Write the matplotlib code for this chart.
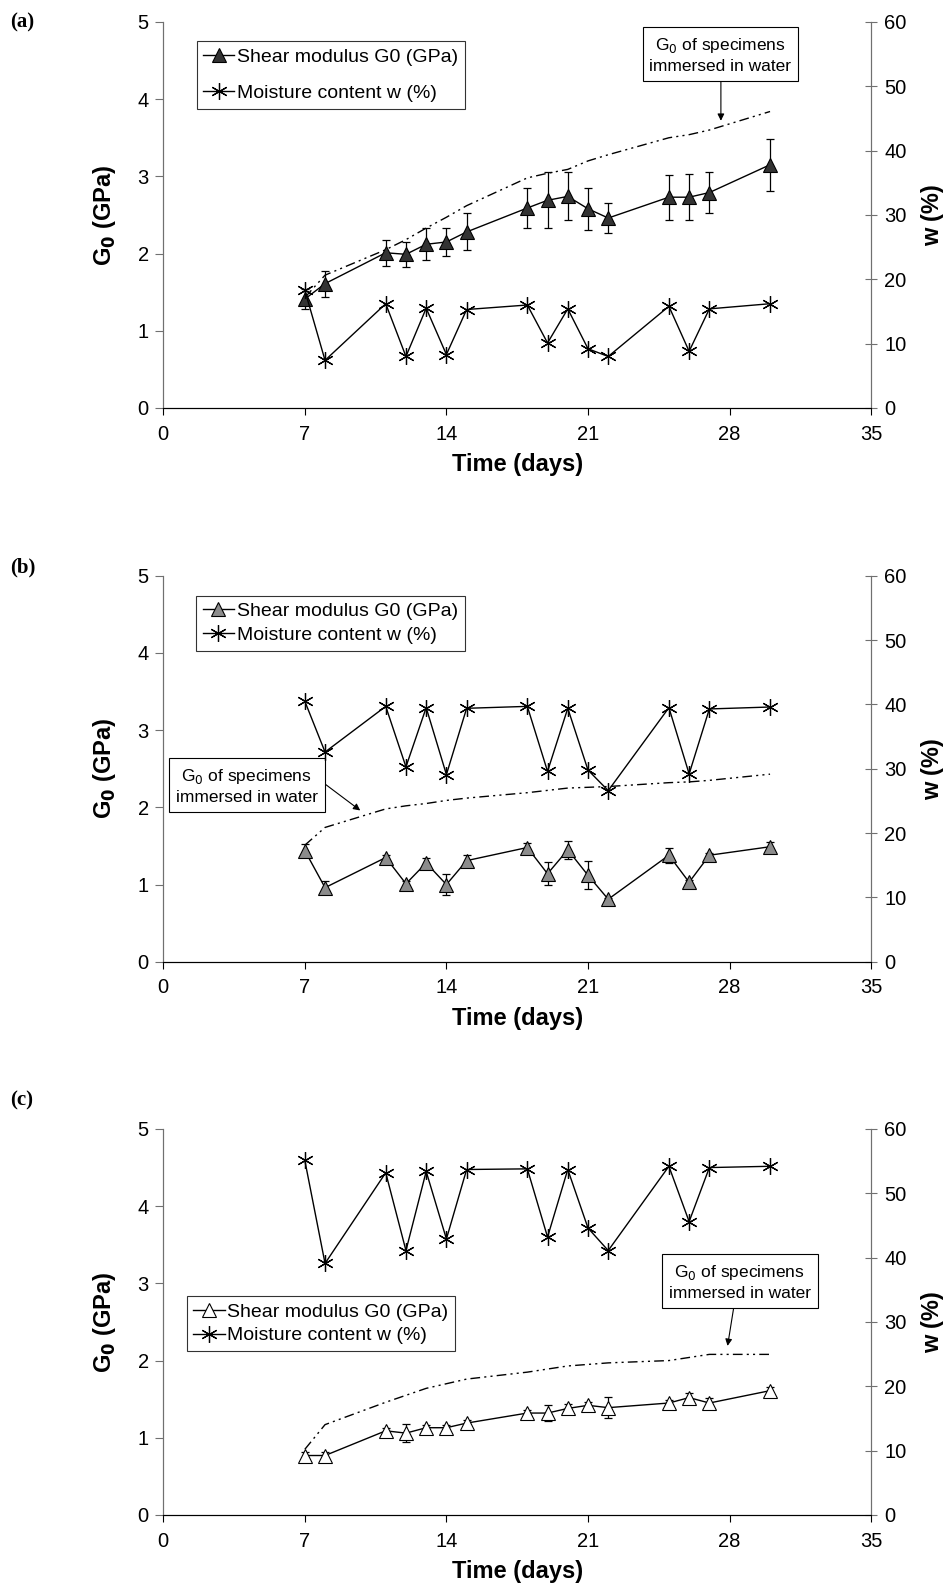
import matplotlib.pyplot as plt

plt.rcParams['font.family'] = ['Liberation Sans', 'DejaVu Sans']

days = [7, 8, 11, 12, 13, 14, 15, 18, 19, 20, 21, 22, 25, 26, 27, 30]

# panel (a)
g_a = [1.41, 1.61, 2.01, 1.99, 2.12, 2.15, 2.28, 2.59, 2.69, 2.74, 2.58, 2.46, 2.73, 2.73, 2.79, 3.15]
g_a_err = [0.13, 0.17, 0.17, 0.16, 0.21, 0.18, 0.24, 0.26, 0.36, 0.31, 0.27, 0.2, 0.29, 0.3, 0.27, 0.34]
w_a = [18.3, 7.4, 16.2, 8.0, 15.5, 8.3, 15.3, 16.0, 10.1, 15.4, 9.2, 8.0, 15.8, 8.8, 15.4, 16.2]
imm_a = [1.43, 1.72, 2.05, 2.18, 2.33, 2.47, 2.62, 2.98, 3.04, 3.09, 3.20, 3.28, 3.50, 3.54, 3.60, 3.84]

# panel (b)
g_b = [1.44, 0.96, 1.35, 1.01, 1.28, 1.0, 1.31, 1.48, 1.14, 1.45, 1.12, 0.81, 1.38, 1.03, 1.38, 1.49]
g_b_err = [0.08, 0.08, 0.03, 0.03, 0.06, 0.14, 0.07, 0.06, 0.15, 0.12, 0.18, 0.02, 0.1, 0.03, 0.03, 0.06]
w_b = [40.5, 32.6, 39.7, 30.3, 39.5, 29.1, 39.4, 39.7, 29.6, 39.4, 29.8, 26.6, 39.5, 29.2, 39.3, 39.6]
imm_b = [1.51, 1.74, 1.98, 2.02, 2.05, 2.09, 2.12, 2.19, 2.22, 2.25, 2.26, 2.27, 2.32, 2.33, 2.35, 2.43]

# panel (c)
g_c = [0.77, 0.77, 1.09, 1.06, 1.13, 1.13, 1.19, 1.32, 1.32, 1.38, 1.42, 1.39, 1.45, 1.52, 1.45, 1.61]
g_c_err = [0.04, 0.04, 0.04, 0.12, 0.04, 0.04, 0.04, 0.04, 0.1, 0.06, 0.04, 0.14, 0.04, 0.06, 0.06, 0.05]
w_c = [55.1, 39.1, 53.2, 41.1, 53.4, 42.9, 53.7, 53.8, 43.2, 53.7, 44.6, 41.1, 54.2, 45.6, 54.0, 54.2]
imm_c = [0.85, 1.17, 1.46, 1.55, 1.64, 1.70, 1.76, 1.85, 1.89, 1.93, 1.95, 1.97, 2.0, 2.04, 2.08, 2.08]

# tag, G, err, w, immersed, marker face, axes bottom, legend spacing, legend anchor,
# note centre, arrow start, arrow end, tag y (fig px from top)
panels = [
    ('(a)', g_a, g_a_err, w_a, imm_a, '#333333', 0.7436, 0.95,
     (0.047, 0.95), (27.55, 4.575), (27.57, 4.23), (27.57, 3.72), 22),
    ('(b)', g_b, g_b_err, w_b, imm_b, '#8c8c8c', 0.3955, 0.3,
     (0.046, 0.948), (4.13, 2.28), (7.96, 2.31), (9.74, 1.96), 567),
    ('(c)', g_c, g_c_err, w_c, imm_c, 'white', 0.0478, 0.3,
     (0.033, 0.566), (28.5, 3.02), (28.2, 2.68), (27.9, 2.19), 1100),
]

fig = plt.figure(figsize=(9.49, 15.91), dpi=100)

for (tag, g, gerr, w, imm, fc, bottom, lspace, leg_pos,
     box_xy, arr_from, arr_to, tag_y) in panels:
    ax = fig.add_axes([0.172, bottom, 0.746, 0.2426])
    ax2 = ax.twinx()

    ax.plot(days, imm, color='black', lw=1, dashes=(7, 3, 1.5, 3, 1.5, 3))
    ax.errorbar(days, g, yerr=gerr, fmt='none', ecolor='black', elinewidth=0.9,
                capsize=3, capthick=0.9)
    h1, = ax.plot(days, g, color='black', lw=1, marker='^', ms=10,
                  mfc=fc, mec='black', mew=0.8, label='Shear modulus G0 (GPa)')
    h2, = ax2.plot(days, w, color='black', lw=1, marker=(6, 2, 0), ms=12,
                   mew=0.9, label='Moisture content w (%)')

    ax.set_xlim(0, 35)
    ax.set_ylim(0, 5)
    ax2.set_ylim(0, 60)
    ax.set_xticks(range(0, 36, 7))
    ax.set_yticks(range(0, 6))
    ax2.set_yticks(range(0, 61, 10))

    for a in (ax, ax2):
        a.spines['top'].set_visible(False)
        a.spines['left'].set_color('#707070')
        a.spines['right'].set_color('#707070')
    ax.tick_params(axis='x', labelsize=14.5, direction='out', length=5, width=0.8, pad=7)
    ax.tick_params(axis='y', labelsize=14.5, direction='out', length=5.5, width=0.8,
                   pad=5, color='#707070')
    ax2.tick_params(axis='y', labelsize=14.5, direction='inout', length=9, width=0.8,
                    pad=5, color='#707070')

    ax.set_xlabel('Time (days)', fontsize=17, fontweight='bold', labelpad=7)
    ax.set_ylabel('G$_\\mathbf{0}$ (GPa)', fontsize=17, fontweight='bold', labelpad=14)
    ax2.set_ylabel('w (%)', fontsize=17, fontweight='bold', labelpad=10)

    leg = ax.legend(handles=[h1, h2], loc='upper left', bbox_to_anchor=leg_pos,
                    borderaxespad=0, fontsize=14, frameon=True, fancybox=False,
                    edgecolor='black', handlelength=1.6, handletextpad=0.15,
                    labelspacing=lspace, borderpad=0.35)
    leg.get_frame().set_linewidth(0.8)
    leg.set_zorder(10)

    ax.text(box_xy[0], box_xy[1], 'G$_0$ of specimens\nimmersed in water',
            ha='center', va='center', fontsize=12.5, linespacing=1.35,
            bbox=dict(boxstyle='square,pad=0.4', fc='white', ec='black', lw=0.8),
            zorder=10)
    ax.annotate('', xy=arr_to, xytext=arr_from,
                arrowprops=dict(arrowstyle='-|>', color='black', lw=0.8,
                                mutation_scale=10, shrinkA=0, shrinkB=0))

    fig.text(10 / 949, 1 - tag_y / 1591, tag, fontsize=15, fontweight='bold',
             family='Liberation Serif', va='center')

fig.savefig('out.png', dpi=100)
